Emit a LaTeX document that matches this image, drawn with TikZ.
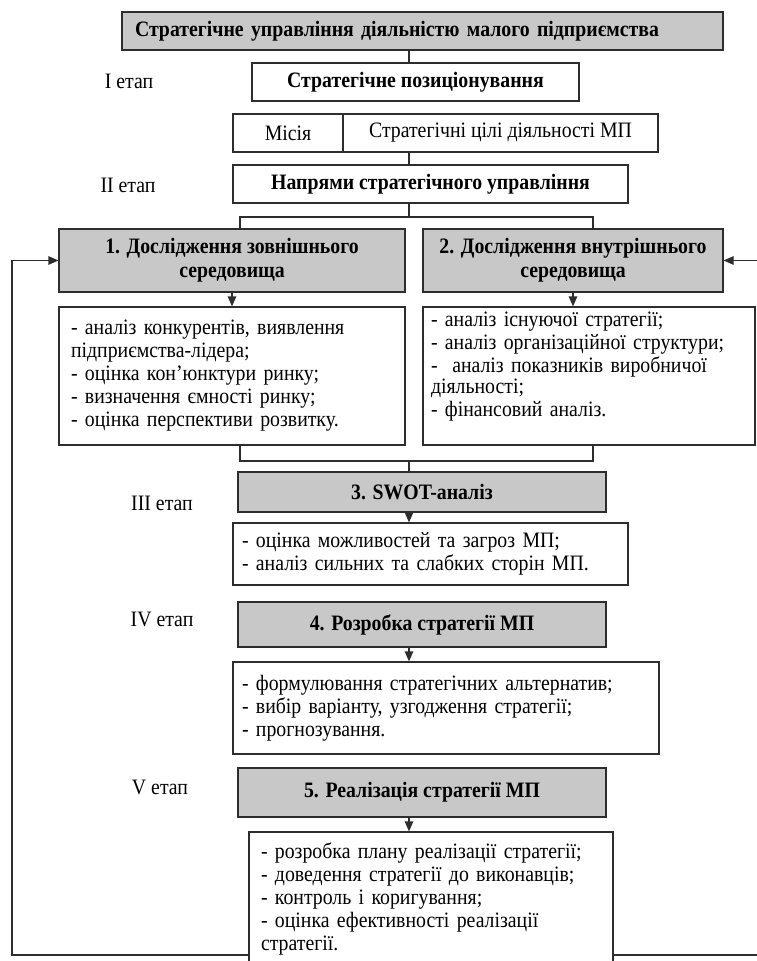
\documentclass[tikz,border=0pt]{standalone}
\usepackage{fontspec}
\setmainfont{Liberation Serif}[FakeStretch=0.9]
\usetikzlibrary{arrows.meta}
\definecolor{boxgray}{RGB}{200,200,200}
\definecolor{linegray}{RGB}{45,45,45}
\begin{document}
\begin{tikzpicture}[x=1pt,y=-1pt,
    every node/.style={font=\fontsize{22}{23}\selectfont},
    frame/.style={draw=linegray,line width=1.2pt,inner sep=0pt,align=center},
    headbox/.style={frame,fill=boxgray,font=\fontsize{22}{24}\selectfont\bfseries},
    whitebox/.style={frame,fill=white},
    listbox/.style={frame,fill=white,align=left,inner xsep=9pt},
    link/.style={draw=linegray,line width=1.2pt},
    arr/.style={link,-{Triangle[length=10pt,width=8.5pt]}}]
    \useasboundingbox (0,0) rectangle (757,961);

    % Top of the scheme
    \node[headbox,minimum width=601pt,minimum height=38pt,align=left,text width=575pt] (top) at (422.5,31)
      {Стратегічне управління діяльністю малого підприємства};
    \node[whitebox,font=\fontsize{22}{23}\selectfont\bfseries,minimum width=327pt,minimum height=38pt] (pos) at (415.5,82)
      {Стратегічне позиціонування};
    \node[whitebox,minimum width=110pt,minimum height=38pt] (mission) at (288,133) {Місія};
    \node[whitebox,minimum width=315pt,minimum height=38pt] (goals) at (500.5,133) {Стратегічні цілі діяльності МП};
    \node[whitebox,font=\fontsize{22}{23}\selectfont\bfseries,minimum width=395pt,minimum height=38pt] (dirs) at (430.5,184)
      {Напрями стратегічного управління};

    % Stage labels
    \foreach \name/\num/\xx/\yy in {st1/I/129/81, st2/II/128/185, st3/III/162/503, st4/IV/162/619, st5/V/160/787}
      \node (\name) at (\xx,\yy) {\num\ етап};

    % Research of the environment
    \node[headbox,minimum width=346pt,minimum height=63pt] (ext) at (232,260.5)
      {1. Дослідження зовнішнього\\середовища};
    \node[headbox,minimum width=300pt,minimum height=63pt] (int) at (573,260.5)
      {2. Дослідження внутрішнього\\середовища};
    \node[listbox,inner xsep=12pt,text width=322pt,minimum height=138pt] (extlist) at (232,376)
      {- аналіз конкурентів, виявлення\\підприємства-лідера;\\- оцінка кон'юнктури ринку;\\- визначення ємності ринку;\\- оцінка перспективи розвитку.};
    \node[listbox,inner xsep=8pt,text width=316pt,minimum height=138pt] (intlist) at (589,376)
      {- аналіз існуючої стратегії;\\- аналіз організаційної структури;\\-\ \ аналіз показників виробничої\\[-2pt]діяльності;\\- фінансовий аналіз.\\\mbox{}};

    % Stages III - V
    \node[headbox,minimum width=368pt,minimum height=40pt] (swot) at (422,492) {3. SWOT-аналіз};
    \node[listbox,text width=377pt,minimum height=62pt] (swotlist) at (430.5,554)
      {- оцінка можливостей та загроз МП;\\- аналіз сильних та слабких сторін МП.};
    \node[headbox,minimum width=368pt,minimum height=45pt] (plan) at (422,624.5) {4. Розробка стратегії МП};
    \node[listbox,text width=408pt,minimum height=92pt] (planlist) at (446,708)
      {- формулювання стратегічних альтернатив;\\- вибір варіанту, узгодження стратегії;\\- прогнозування.};
    \node[headbox,minimum width=368pt,minimum height=49pt] (impl) at (422,792.5) {5. Реалізація стратегії МП};
    \node[listbox,inner xsep=12pt,text width=340pt,minimum height=134pt] (impllist) at (431,899)
      {- розробка плану реалізації стратегії;\\- доведення стратегії до виконавців;\\- контроль і коригування;\\- оцінка ефективності реалізації\\стратегії.};

    % Connectors
    \coordinate (spine) at (409,0);
    \coordinate (brL) at (240,217);
    \coordinate (brR) at (593,217);
    \coordinate (jnL) at (240,461);
    \coordinate (jnR) at (593,461);
    \draw[link] (top.south -| spine) -- (pos.north -| spine);
    \draw[link] (goals.south -| spine) -- (dirs.north -| spine);
    \draw[link] (dirs.south -| spine) -- (spine |- brL);
    \draw[link] (ext.north -| brL) -- (brL) -- (brR) -- (int.north -| brR);
    \draw[arr] (ext.south) -- (extlist.north);
    \draw[arr] (int.south) -- (int.south |- intlist.north);
    \draw[link] (extlist.south -| jnL) -- (jnL) -- (jnR) -- (intlist.south -| jnR);
    \draw[link] (spine |- jnL) -- (swot.north -| spine);
    \draw[arr] (swot.south -| spine) -- (swotlist.north -| spine);
    \draw[arr] (plan.south -| spine) -- (planlist.north -| spine);
    \draw[arr] (impl.south -| spine) -- (impllist.north -| spine);

    % Feedback loop
    \coordinate (loopL) at (12,955);
    \coordinate (loopR) at (772,955);
    \draw[arr] (impllist.west |- loopL) -- (loopL) |- (ext.west);
    \draw[arr] (impllist.east |- loopR) -- (loopR) |- (int.east);
\end{tikzpicture}
\end{document}
